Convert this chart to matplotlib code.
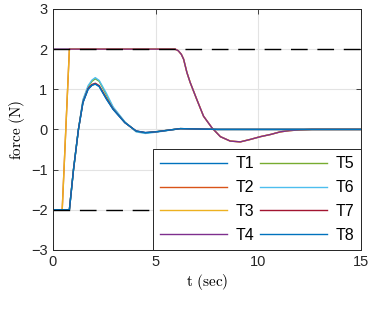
import numpy as np
import matplotlib
matplotlib.use('Agg')
import matplotlib.pyplot as plt

plt.rcParams['font.family'] = ['Liberation Sans', 'DejaVu Sans']
plt.rcParams['mathtext.fontset'] = 'cm'

### values
labels = ['T1', 'T2', 'T3', 'T4', 'T5', 'T6', 'T7', 'T8']
colors = ['#0072BD', '#D95319', '#EDB120', '#7E2F8E',
          '#77AC30', '#4DBEEE', '#A2142F', '#0072BD']

# saturated group (T2, T3, T4)
t_sat = [0, 0.45, 0.8, 5.95, 6.1, 6.25, 6.36, 6.52, 6.68, 7.0, 7.33, 7.74,
         8.15, 8.63, 9.12, 9.6, 10.1, 10.6, 11.07, 11.5, 12.05, 12.6, 15]
f_sat = [-2, -2, 2, 2, 1.96, 1.87, 1.75, 1.42, 1.17, 0.75, 0.33, 0.04,
         -0.18, -0.29, -0.31, -0.25, -0.18, -0.125, -0.06, -0.03, -0.01, 0, 0]
t_T4 = [0, 5.95, 6.1, 6.25, 6.36, 6.52, 6.68, 7.0, 7.33, 7.74, 8.15,
        8.63, 9.12, 9.6, 10.1, 10.6, 11.07, 11.5, 12.05, 12.6, 15]
f_T4 = [2, 2, 1.96, 1.87, 1.75, 1.42, 1.17, 0.75, 0.33, 0.04, -0.18,
        -0.29, -0.31, -0.25, -0.18, -0.125, -0.06, -0.03, -0.01, 0, 0]

# free group (T1, T5, T6, T7, T8)
t_free = [0, 0.8, 1.0, 1.24, 1.46, 1.71, 1.9, 2.06, 2.25, 2.6, 2.93, 3.5,
          4.05, 4.5, 5.0, 6.2, 8, 15]
f_T1 = [-2, -2, -1, 0, 0.67, 1.0, 1.1, 1.13, 1.07, 0.76, 0.5, 0.17,
        -0.04, -0.08, -0.06, 0.02, 0, 0]
f_T5 = [-2, -2, -1, 0, 0.72, 1.06, 1.2, 1.26, 1.2, 0.86, 0.54, 0.18,
        -0.05, -0.09, -0.06, 0.02, 0, 0]
f_T6 = [-2, -2, -1, 0, 0.74, 1.09, 1.23, 1.29, 1.22, 0.9, 0.56, 0.19,
        -0.06, -0.1, -0.07, 0.02, 0, 0]
f_T7 = [-2, -2, -1, 0, 0.68, 1.02, 1.12, 1.15, 1.09, 0.78, 0.51, 0.17,
        -0.04, -0.08, -0.06, 0.02, 0, 0]

series = {
    'T1': (t_free, f_T1),
    'T2': (t_sat, f_sat),
    'T3': (t_sat, f_sat),
    'T4': (t_T4, f_T4),
    'T5': (t_free, f_T5),
    'T6': (t_free, f_T6),
    'T7': (t_free, f_T7),
    'T8': (t_free, f_T1),
}
f_max = 2
f_min = -2

fig = plt.figure(figsize=(3.73, 3.10), dpi=100)
ax = fig.add_axes([0.142, 0.194, 0.826, 0.777])

for lab, c in zip(labels, colors):
    t, f = series[lab]
    ax.plot(t, f, color=c, lw=1.0, label=lab)

ax.plot([0, 15], [f_max, f_max], color='k', lw=1.0, dashes=(12, 7))
ax.plot([0, 15], [f_min, f_min], color='k', lw=1.0, dashes=(12, 7))

ax.set_xlim(0, 15)
ax.set_ylim(-3, 3)
ax.set_xticks([0, 5, 10, 15])
ax.set_yticks([-3, -2, -1, 0, 1, 2, 3])
ax.grid(True, color='#e3e3e3', lw=0.8)
ax.set_axisbelow(True)
ax.tick_params(direction='in', top=True, right=True, labelsize=10.5,
               length=3.5, width=0.6, colors='#262626', pad=4)
for s in ax.spines.values():
    s.set_color('#262626')
    s.set_linewidth(0.7)

ax.set_xlabel(r'$\mathrm{t\ (sec)}$', fontsize=11, labelpad=2)
ax.set_ylabel(r'$\mathrm{force\ (N)}$', fontsize=11, labelpad=3)

handles, labs = ax.get_legend_handles_labels()
leg = ax.legend(handles[:8], labs[:8], ncol=2, loc='lower left',
                bbox_to_anchor=(0.325, 0.0, 0.675, 0.42), mode='expand',
                borderaxespad=0, fontsize=11.5, handlelength=4.2,
                handletextpad=0.5, labelspacing=0.55, columnspacing=1.0,
                fancybox=False, framealpha=1, edgecolor='#262626',
                borderpad=0.45)
leg.get_frame().set_linewidth(0.7)

fig.savefig('out.png', dpi=100)
